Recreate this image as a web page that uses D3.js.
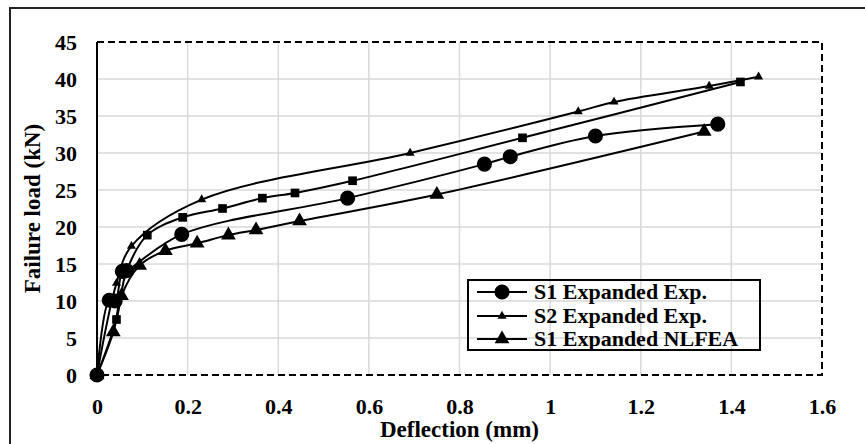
<!DOCTYPE html>
<html>
<head>
<meta charset="utf-8">
<script src="https://cdn.jsdelivr.net/npm/d3@7/dist/d3.min.js"></script>
<style>
  body { margin: 0; background: #fff; }
</style>
</head>
<body>
<svg id="chart" width="865" height="444"></svg>
<script>
// S1 Expanded Exp. (circles)
const s1ExpX = [0, 0.027, 0.04, 0.056, 0.065, 0.187, 0.553, 0.855, 0.912, 1.1, 1.37];
const s1ExpY = [0, 10.1, 10.0, 14.0, 14.1, 19.0, 23.9, 28.5, 29.5, 32.3, 33.9];
// S2 Expanded Exp. (small triangles)
const s2ExpX = [0, 0.043, 0.076, 0.231, 0.691, 1.062, 1.141, 1.351, 1.46];
const s2ExpY = [0, 12.4, 17.4, 23.7, 30.0, 35.6, 36.9, 39.05, 40.3];
// square series (no legend entry)
const sqX = [0, 0.043, 0.065, 0.111, 0.189, 0.277, 0.365, 0.437, 0.564, 0.939, 1.42];
const sqY = [0, 7.5, 14.0, 18.9, 21.3, 22.5, 23.9, 24.6, 26.25, 32.05, 39.6];
// S1 Expanded NLFEA (large triangles)
const s1FeaX = [0, 0.036, 0.054, 0.094, 0.151, 0.221, 0.29, 0.351, 0.447, 0.75, 1.34];
const s1FeaY = [0, 5.8, 10.7, 14.8, 16.8, 17.8, 18.9, 19.6, 20.8, 24.4, 32.9];

const xTicks = [0, 0.2, 0.4, 0.6, 0.8, 1, 1.2, 1.4, 1.6];
const yTicks = [0, 5, 10, 15, 20, 25, 30, 35, 40, 45];
const legendNames = ["S1 Expanded Exp.", "S2 Expanded Exp.", "S1 Expanded NLFEA"];

const FONT = "'Liberation Serif', 'Times New Roman', 'DejaVu Serif', serif";

const svg = d3.select("#chart")
    .attr("font-family", FONT)
    .attr("font-weight", "bold");
const pLeft = 97, pRight = 822, pTop = 42, pBottom = 375;

const x = d3.scaleLinear().domain([0, 1.6]).range([pLeft, pRight]);
const y = d3.scaleLinear().domain([0, 45]).range([pBottom, pTop]);

// outer chart border
svg.append("rect")
    .attr("x", 10).attr("y", 8)
    .attr("width", 880).attr("height", 460)
    .attr("fill", "none").attr("stroke", "#222").attr("stroke-width", 2);

// gridlines
svg.append("g").selectAll("line")
    .data(xTicks.slice(1, -1))
    .enter().append("line")
    .attr("x1", (d) => x(d)).attr("x2", (d) => x(d))
    .attr("y1", pTop).attr("y2", pBottom)
    .attr("stroke", "#d9d9d9").attr("stroke-width", 1.5);
svg.append("g").selectAll("line")
    .data(yTicks.slice(1, -1))
    .enter().append("line")
    .attr("x1", pLeft).attr("x2", pRight)
    .attr("y1", (d) => y(d)).attr("y2", (d) => y(d))
    .attr("stroke", "#d9d9d9").attr("stroke-width", 1.5);

// axes (labels only, Excel style)
const xAxis = svg.append("g")
    .attr("transform", `translate(0,${pBottom})`)
    .call(d3.axisBottom(x).tickValues(xTicks).tickSize(0).tickPadding(23).tickFormat(d3.format("")));
const yAxis = svg.append("g")
    .attr("transform", `translate(${pLeft},0)`)
    .call(d3.axisLeft(y).tickValues(yTicks).tickSize(0).tickPadding(20));
[xAxis, yAxis].forEach((a) => {
    a.attr("font-family", FONT).attr("font-size", 22).attr("font-weight", "bold");
    a.select(".domain").remove();
    a.selectAll("text").attr("fill", "#000");
});

svg.append("text")
    .attr("x", (pLeft + pRight) / 2).attr("y", 437)
    .attr("text-anchor", "middle").attr("font-size", 23)
    .text("Deflection (mm)");
svg.append("text")
    .attr("transform", `translate(40,${(pTop + pBottom) / 2}) rotate(-90)`)
    .attr("text-anchor", "middle").attr("font-size", 23)
    .text("Failure load (kN)");

// series
const line = d3.line().x((d) => x(d[0])).y((d) => y(d[1])).curve(d3.curveCatmullRom.alpha(0.5));
const series = [
    { xs: s2ExpX, ys: s2ExpY, sym: d3.symbolTriangle, size: 36 },
    { xs: sqX, ys: sqY, sym: d3.symbolSquare, size: 75 },
    { xs: s1ExpX, ys: s1ExpY, sym: d3.symbolCircle, size: 180 },
    { xs: s1FeaX, ys: s1FeaY, sym: d3.symbolTriangle, size: 95 },
];

series.forEach((s) => {
    const pts = s.xs.map((v, i) => [v, s.ys[i]]);
    svg.append("path")
        .attr("d", line(pts))
        .attr("fill", "none").attr("stroke", "#000").attr("stroke-width", 2);
});
series.forEach((s) => {
    const pts = s.xs.map((v, i) => [v, s.ys[i]]);
    svg.append("g").selectAll("path")
        .data(pts)
        .enter().append("path")
        .attr("d", d3.symbol().type(s.sym).size(s.size))
        .attr("transform", (d) => `translate(${x(d[0])},${y(d[1])})`)
        .attr("fill", "#000");
});

// plot area border
svg.append("path")
    .attr("d", `M${pLeft},${pTop}H${pRight}V${pBottom}H${pLeft}`)
    .attr("fill", "none").attr("stroke", "#000").attr("stroke-width", 2)
    .attr("stroke-dasharray", "7,4");
svg.append("line")
    .attr("x1", pLeft).attr("x2", pLeft).attr("y1", pTop).attr("y2", pBottom)
    .attr("stroke", "#000").attr("stroke-width", 2);

// legend
const legSyms = [
    { sym: d3.symbolCircle, size: 180 },
    { sym: d3.symbolTriangle, size: 36 },
    { sym: d3.symbolTriangle, size: 95 },
];
const leg = svg.append("g");
leg.append("rect")
    .attr("x", 468).attr("y", 280).attr("width", 292).attr("height", 70)
    .attr("fill", "none").attr("stroke", "#000").attr("stroke-width", 2);
const rowY = [292, 316, 339];
legendNames.forEach((name, i) => {
    leg.append("line")
        .attr("x1", 477).attr("x2", 527).attr("y1", rowY[i]).attr("y2", rowY[i])
        .attr("stroke", "#000").attr("stroke-width", 2);
    leg.append("path")
        .attr("d", d3.symbol().type(legSyms[i].sym).size(legSyms[i].size))
        .attr("transform", `translate(502,${rowY[i]})`)
        .attr("fill", "#000");
    leg.append("text")
        .attr("x", 534).attr("y", rowY[i] + 7)
        .attr("font-size", 22)
        .text(name);
});
</script>
</body>
</html>
